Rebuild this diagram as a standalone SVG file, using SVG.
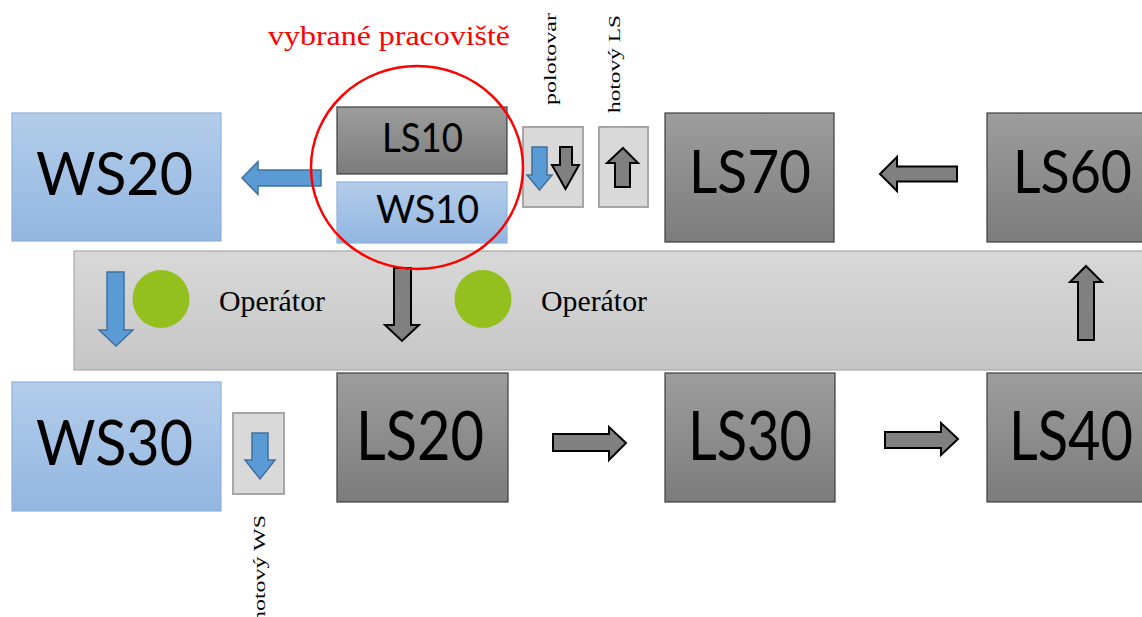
<svg xmlns="http://www.w3.org/2000/svg" width="1142" height="617" viewBox="0 0 1142 617">
<defs>
<linearGradient id="gGray" x1="0" y1="0" x2="0" y2="1">
<stop offset="0" stop-color="#9d9d9d"/><stop offset="1" stop-color="#7c7c7c"/>
</linearGradient>
<linearGradient id="gBlue" x1="0" y1="0" x2="0" y2="1">
<stop offset="0" stop-color="#b4cdea"/><stop offset="1" stop-color="#92b6e1"/>
</linearGradient>
<linearGradient id="gBand" x1="0" y1="0" x2="0" y2="1">
<stop offset="0" stop-color="#d8d8d8"/><stop offset="1" stop-color="#c6c6c6"/>
</linearGradient>
<style>
.ls{fill:url(#gGray);stroke:#3c3c3c;stroke-width:1.2}
.ws{fill:url(#gBlue);stroke:#8fb1d8;stroke-width:1.2}
.sbox{fill:#d9d9d9;stroke:#a6a6a6;stroke-width:2}
.big{font-family:Lato,"Open Sans",sans-serif;fill:#000}
.tnr{font-family:"Liberation Serif","Times New Roman",serif;fill:#000}
.ab{fill:#5b9bd5;stroke:#41719c;stroke-width:1.5;stroke-linejoin:miter}
.ag{fill:#808080;stroke:#000;stroke-width:2;stroke-linejoin:miter}
.op{fill:#93c01f}
</style>
</defs>
<rect width="1142" height="617" fill="#fff"/>

<g id="band">
<rect x="74" y="251" width="1080" height="119" fill="url(#gBand)" stroke="#a8a8a8" stroke-width="1.2"/>
</g>

<g id="WS20">
<rect class="ws" x="12" y="113" width="209" height="128"/>
<text class="big" x="36" y="195" font-size="60" textLength="157" lengthAdjust="spacingAndGlyphs">WS20</text>
</g>
<g id="LS10">
<rect class="ls" x="337" y="107" width="170" height="67"/>
<text class="big" x="382" y="152" font-size="40" textLength="81" lengthAdjust="spacingAndGlyphs">LS10</text>
</g>
<g id="WS10">
<rect class="ws" x="337" y="182" width="170" height="61"/>
<text class="big" x="376" y="223" font-size="38" textLength="103" lengthAdjust="spacingAndGlyphs">WS10</text>
</g>
<g id="LS70">
<rect class="ls" x="665" y="113" width="169" height="129"/>
<text class="big" x="689" y="193" font-size="60" textLength="122" lengthAdjust="spacingAndGlyphs">LS70</text>
</g>
<g id="LS60">
<rect class="ls" x="987" y="113" width="170" height="129"/>
<text class="big" x="1013" y="193" font-size="60" textLength="119" lengthAdjust="spacingAndGlyphs">LS60</text>
</g>
<g id="WS30">
<rect class="ws" x="12" y="382" width="209" height="129"/>
<text class="big" x="36" y="465" font-size="62" textLength="157" lengthAdjust="spacingAndGlyphs">WS30</text>
</g>
<g id="LS20">
<rect class="ls" x="337" y="373" width="171" height="129"/>
<text class="big" x="356" y="460" font-size="68" textLength="128" lengthAdjust="spacingAndGlyphs">LS20</text>
</g>
<g id="LS30">
<rect class="ls" x="665" y="373" width="170" height="129"/>
<text class="big" x="688" y="460" font-size="68" textLength="124" lengthAdjust="spacingAndGlyphs">LS30</text>
</g>
<g id="LS40">
<rect class="ls" x="987" y="373" width="170" height="129"/>
<text class="big" x="1009" y="460" font-size="68" textLength="124" lengthAdjust="spacingAndGlyphs">LS40</text>
</g>

<g id="polotovar">
<rect class="sbox" x="523" y="127" width="60" height="80"/>
<text class="tnr" transform="translate(555.5,59) rotate(-90)" text-anchor="middle" font-size="17" textLength="92" lengthAdjust="spacingAndGlyphs">polotovar</text>
</g>
<g id="hotovyLS">
<rect class="sbox" x="599" y="127" width="49" height="80"/>
<text class="tnr" transform="translate(619.5,64) rotate(-90)" text-anchor="middle" font-size="17" textLength="98" lengthAdjust="spacingAndGlyphs">hotový LS</text>
</g>
<g id="hotovyWS">
<rect class="sbox" x="233" y="413" width="51" height="81"/>
<text class="tnr" transform="translate(265,515) rotate(-90)" text-anchor="end" font-size="17" textLength="108" lengthAdjust="spacingAndGlyphs">hotový WS</text>
</g>

<g id="operator1">
<ellipse class="op" cx="161" cy="299" rx="28.5" ry="29"/>
<text class="tnr" x="219" y="311" font-size="29" textLength="106" lengthAdjust="spacingAndGlyphs">Operátor</text>
</g>
<g id="operator2">
<ellipse class="op" cx="483" cy="299" rx="28.5" ry="29"/>
<text class="tnr" x="541" y="311" font-size="29" textLength="106" lengthAdjust="spacingAndGlyphs">Operátor</text>
</g>

<g id="connectors">
<path class="ab" d="M242,178 L258,161.5 L258,170 L321,170 L321,186 L258,186 L258,194.5 Z"/>
<path class="ab" d="M532,147 L547,147 L547,175 L552,175 L539.5,190 L527,175 L532,175 Z"/>
<path class="ag" d="M560,147 L572,147 L572,165 L579,165 L565.5,189 L552,165 L560,165 Z"/>
<path class="ag" d="M623,148 L638,163 L630,163 L630,187 L615,187 L615,163 L607,163 Z"/>
<path class="ag" d="M880,174 L897,157 L897,166.5 L957,166.5 L957,181.5 L897,181.5 L897,191 Z"/>
<path class="ab" d="M107,272 L124,272 L124,330 L133,330 L116,346 L99,330 L107,330 Z"/>
<path class="ag" d="M394,268 L411,268 L411,325 L419,325 L402,341 L385,325 L394,325 Z"/>
<path class="ag" d="M1086,266 L1102,282 L1094,282 L1094,340 L1078,340 L1078,282 L1070,282 Z"/>
<path class="ag" d="M553,434 L609,434 L609,427 L626,443 L609,460 L609,451 L553,451 Z"/>
<path class="ag" d="M885,432 L941,432 L941,423 L958,439 L941,455 L941,448 L885,448 Z"/>
<path class="ab" d="M252,433 L268,433 L268,460 L275,460 L260,479 L245,460 L252,460 Z"/>
</g>

<g id="selection">
<ellipse cx="417" cy="167.5" rx="106" ry="101.5" fill="none" stroke="#ff0000" stroke-width="2.5"/>
<text x="268" y="45" font-family="'Liberation Serif','Times New Roman',serif" font-size="28" fill="#ff0000" textLength="242" lengthAdjust="spacingAndGlyphs">vybrané pracoviště</text>
</g>
</svg>
